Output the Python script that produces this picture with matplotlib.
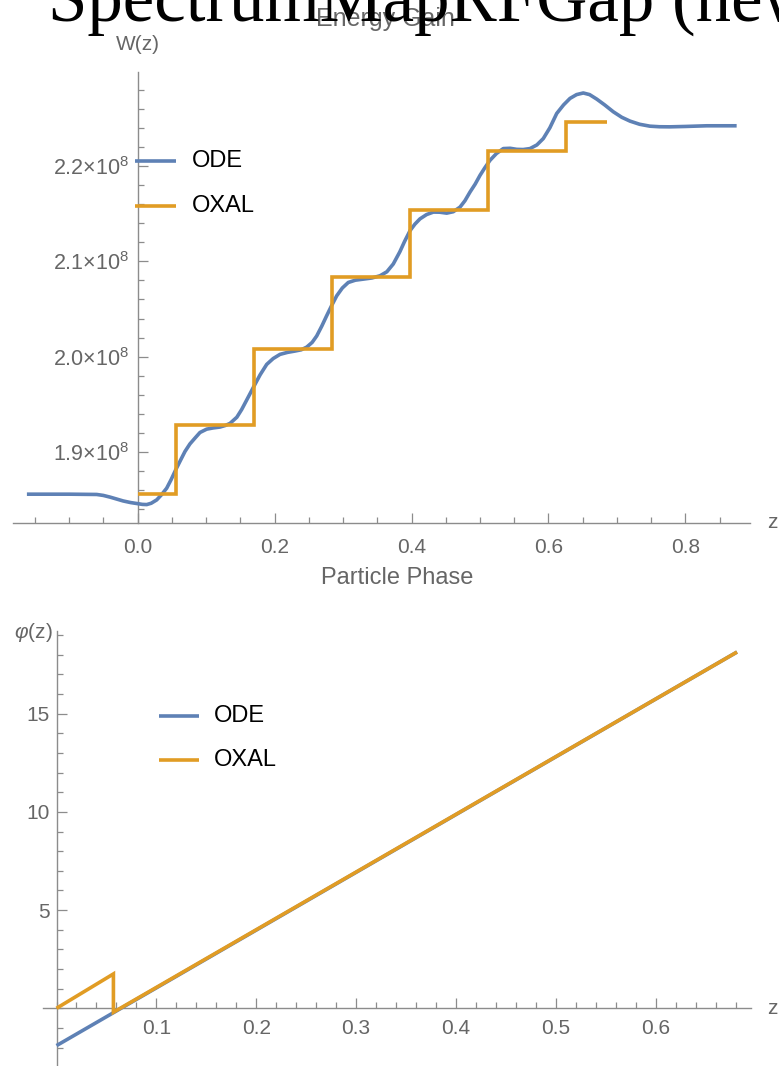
import matplotlib
matplotlib.use("Agg")
import matplotlib.pyplot as plt
from matplotlib.ticker import MultipleLocator, FixedLocator, FuncFormatter
from matplotlib.lines import Line2D

plt.rcParams['font.family'] = ['Liberation Sans', 'DejaVu Sans']
plt.rcParams['mathtext.fontset'] = 'custom'
plt.rcParams['mathtext.rm'] = 'Liberation Sans'
plt.rcParams['mathtext.it'] = 'Liberation Sans:italic'

# ---------------- data ----------------
# Energy gain, ODE solution (z, W/1e8)
ode_z = [-0.1615, -0.10, -0.0596, -0.050, -0.040, -0.030, -0.021, -0.010, 0.0, 0.007,
         0.0134, 0.020, 0.028, 0.035, 0.0426, 0.049, 0.0558, 0.0625, 0.0693, 0.0765,
         0.084, 0.0912, 0.101, 0.1107, 0.1204, 0.128, 0.135, 0.145, 0.152, 0.159,
         0.170, 0.179, 0.1886, 0.198, 0.208, 0.219, 0.230, 0.239, 0.247, 0.255,
         0.2616, 0.269, 0.276, 0.283, 0.2908, 0.299, 0.3077, 0.318, 0.3296, 0.342,
         0.354, 0.364, 0.3734, 0.383, 0.390, 0.398, 0.405, 0.4124, 0.422, 0.4319,
         0.441, 0.4514, 0.461, 0.4708, 0.478, 0.4854, 0.493, 0.500, 0.507, 0.5146,
         0.524, 0.534, 0.544, 0.5536, 0.563, 0.573, 0.583, 0.5924, 0.602, 0.612,
         0.622, 0.6314, 0.641, 0.6508, 0.660, 0.6704, 0.682, 0.6946, 0.707, 0.719,
         0.733, 0.748, 0.762, 0.777, 0.800, 0.831, 0.8747]
ode_w = [1.8558, 1.8558, 1.8555, 1.8545, 1.8527, 1.8506, 1.8487, 1.8470, 1.8459, 1.8451,
         1.8449, 1.8463, 1.8498, 1.8552, 1.8621, 1.8710, 1.8814, 1.8910, 1.9006, 1.9085,
         1.9147, 1.9205, 1.9240, 1.9253, 1.9262, 1.9278, 1.9300, 1.9365, 1.9445, 1.9540,
         1.9690, 1.9810, 1.9919, 1.9980, 2.0024, 2.0045, 2.0059, 2.0072, 2.0100, 2.0150,
         2.0217, 2.0320, 2.0427, 2.0530, 2.0638, 2.0720, 2.0778, 2.0802, 2.0813, 2.0825,
         2.0848, 2.0890, 2.0972, 2.1100, 2.1210, 2.1323, 2.1390, 2.1445, 2.1490, 2.1516,
         2.1515, 2.1505, 2.1520, 2.1568, 2.1635, 2.1726, 2.1810, 2.1901, 2.1980, 2.2059,
         2.2130, 2.2182, 2.2185, 2.2174, 2.2172, 2.2182, 2.2220, 2.2287, 2.2400, 2.2550,
         2.2640, 2.2708, 2.2748, 2.2765, 2.2748, 2.2701, 2.2640, 2.2568, 2.2510, 2.2470,
         2.2437, 2.2417, 2.2411, 2.2410, 2.2414, 2.2421, 2.2421]
# Energy gain, OXAL (step function): cell edges and levels (W/1e8)
oxal_edges = [0.0, 0.0558, 0.170, 0.2844, 0.398, 0.511, 0.625, 0.685]
oxal_levels = [1.8561, 1.9287, 2.0077, 2.0832, 2.1533, 2.2154, 2.2456]
w_scale = 1e8

# Phase
phase_ode_z = [0.0, 0.6815]
phase_ode_phi = [-1.90, 18.14]
phase_oxal_z = [0.0, 0.057, 0.057, 0.6815]
phase_oxal_phi = [0.0, 1.75, -0.20, 18.14]

series_names = ["ODE", "OXAL"]
top_xticks = [0.0, 0.2, 0.4, 0.6, 0.8]
top_yticks = [1.9e8, 2.0e8, 2.1e8, 2.2e8]
bot_xticks = [0.1, 0.2, 0.3, 0.4, 0.5, 0.6]
bot_yticks = [5, 10, 15]

# ---------------- style ----------------
W, H = 779, 1066
BLUE = '#5E81B5'
ORANGE = '#E19C24'
AX_COL = '#8c8c8c'
LBL_COL = '#666666'
LW = 2.6

fig = plt.figure(figsize=(W / 100, H / 100), dpi=100)


def fx(px):
    return px / W


def fy(py):
    return 1 - py / H


def style_axes(ax):
    for s in ('top', 'right'):
        ax.spines[s].set_visible(False)
    for s in ('left', 'bottom'):
        ax.spines[s].set_color(AX_COL)
        ax.spines[s].set_linewidth(1.0)
    ax.tick_params(which='both', direction='in', colors=AX_COL, labelcolor=LBL_COL,
                   labelsize=15, width=0.9)
    ax.tick_params(which='major', length=7)
    ax.tick_params(which='minor', length=4)
    ax.patch.set_alpha(0)


# ---------------- top panel ----------------
ax1 = fig.add_axes([fx(13), fy(523), fx(750) - fx(13), fy(72) - fy(523)])
style_axes(ax1)
ax1.set_xlim(-0.1818, 0.8942)
ax1.set_ylim(1.82558e8, 2.2985e8)
ax1.spines['left'].set_position(('data', 0))

ax1.plot(ode_z, [v * w_scale for v in ode_w], color=BLUE, lw=LW, solid_capstyle='butt',
         solid_joinstyle='round', zorder=3)
ax1.stairs([v * w_scale for v in oxal_levels], oxal_edges, color=ORANGE, lw=LW,
           baseline=None, zorder=4)

ax1.xaxis.set_major_locator(FixedLocator(top_xticks))
ax1.xaxis.set_minor_locator(MultipleLocator(0.05))
ax1.xaxis.set_major_formatter(FuncFormatter(lambda v, p: f'{v:.1f}'))
ax1.yaxis.set_major_locator(FixedLocator(top_yticks))
ax1.yaxis.set_minor_locator(MultipleLocator(0.02e8))
ax1.yaxis.set_major_formatter(FuncFormatter(
    lambda v, p: f'{v / 1e8:.1f}' + '\u00d7' + r'10$^{8}$'))
ax1.tick_params(axis='x', which='major', pad=11)
ax1.tick_params(axis='y', which='major', pad=6, labelsize=15.5)

# ---------------- bottom panel ----------------
ax2 = fig.add_axes([fx(43.3), 0.0, fx(750.7) - fx(43.3), fy(630.7)])
style_axes(ax2)
ax2.set_xlim(-0.01322, 0.6952)
ax2.set_ylim(-2.938, 19.226)
ax2.spines['left'].set_position(('data', 0))
ax2.spines['bottom'].set_position(('data', 0))

ax2.plot(phase_ode_z, phase_ode_phi, color=BLUE, lw=LW, solid_capstyle='butt', zorder=3)
ax2.plot(phase_oxal_z, phase_oxal_phi, color=ORANGE, lw=LW, solid_capstyle='butt',
         solid_joinstyle='miter', zorder=4)

ax2.xaxis.set_major_locator(FixedLocator(bot_xticks))
ax2.xaxis.set_minor_locator(MultipleLocator(0.02))
ax2.xaxis.set_major_formatter(FuncFormatter(lambda v, p: f'{v:.1f}'))
ax2.yaxis.set_major_locator(FixedLocator(bot_yticks))
ax2.yaxis.set_minor_locator(MultipleLocator(1))
ax2.yaxis.set_major_formatter(FuncFormatter(lambda v, p: f'{v:g}'))
ax2.tick_params(axis='x', which='major', pad=8)
ax2.tick_params(axis='y', which='major', pad=5)

# ---------------- labels ----------------
fig.text(fx(48), fy(21), 'SpectrumMapRFGap (new', family='Liberation Serif',
         fontsize=51, color='black', ha='left', va='baseline', zorder=10)
fig.text(fx(385), fy(26), 'Energy Gain', fontsize=18, color=LBL_COL,
         ha='center', va='baseline', zorder=5)
fig.text(fx(138), fy(45), 'W(z)', fontsize=15, color=LBL_COL, ha='center', va='center')
fig.text(fx(772), fy(523), 'z', fontsize=15, color=LBL_COL, ha='center', va='center')
fig.text(fx(397), fy(584), 'Particle Phase', fontsize=17, color=LBL_COL,
         ha='center', va='baseline')
fig.text(fx(33), fy(632), r'$\varphi$(z)', fontsize=15, color=LBL_COL,
         ha='center', va='center')
fig.text(fx(772), fy(1008), 'z', fontsize=15, color=LBL_COL, ha='center', va='center')


# ---------------- legends ----------------
def legend(x0, x1, xt, ys):
    for name, col, y in zip(series_names, [BLUE, ORANGE], ys):
        fig.add_artist(Line2D([fx(x0), fx(x1)], [fy(y), fy(y)], color=col, lw=LW,
                              solid_capstyle='butt', transform=fig.transFigure))
        fig.text(fx(xt), fy(y), name, fontsize=17, color='black',
                 ha='left', va='center')


legend(135, 176, 192, [161, 206])
legend(159, 199, 214, [716, 760])

fig.savefig('out.png', dpi=100)
